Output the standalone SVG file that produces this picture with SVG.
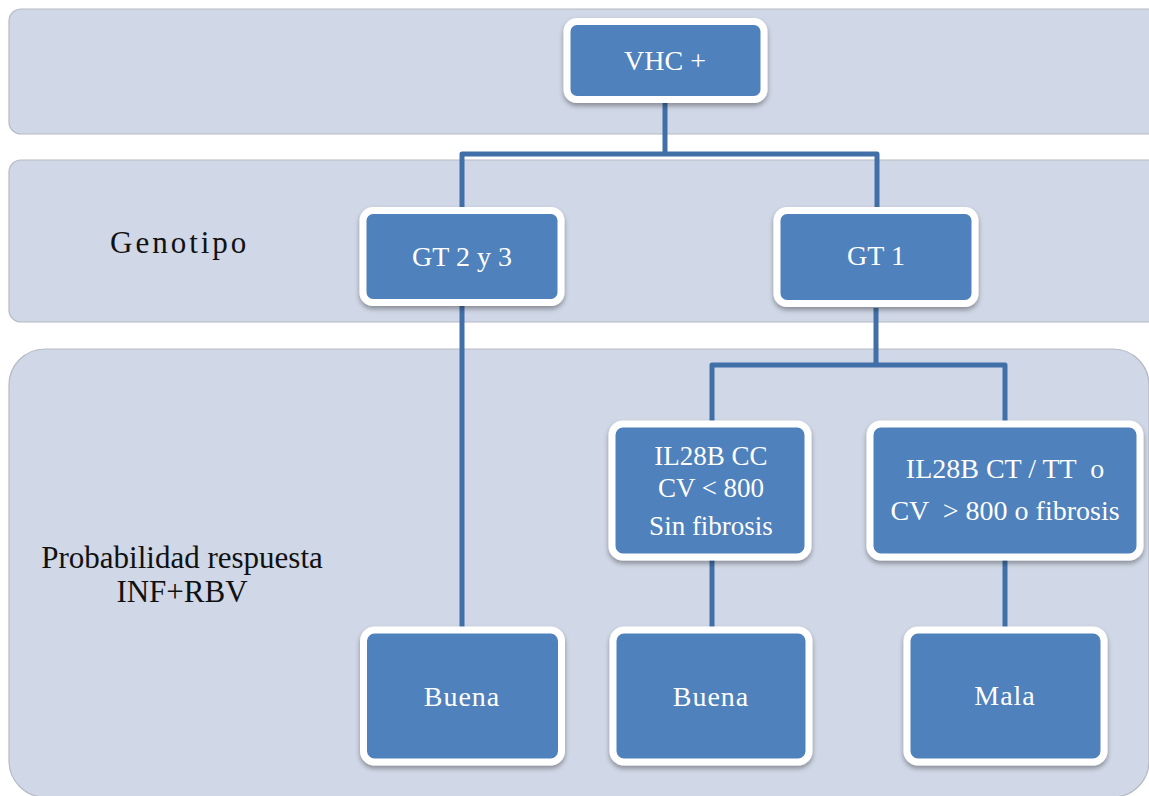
<svg xmlns="http://www.w3.org/2000/svg" width="1149" height="796" viewBox="0 0 1149 796">
  <defs>
    <filter id="shadow" x="-10%" y="-10%" width="120%" height="130%">
      <feDropShadow dx="0" dy="3" stdDeviation="2.5" flood-color="#000" flood-opacity="0.35"/>
    </filter>
    <style>
      .band { fill: #d0d7e6; stroke: #b6bac4; stroke-width: 1.2; }
      .box { fill: #4f81bd; stroke: #ffffff; stroke-width: 7; filter: url(#shadow); }
      .lbl { font-family: "Liberation Serif", "Times New Roman", serif; font-size: 28px; fill: #ffffff; text-anchor: middle; white-space: pre; }
      .tight { font-size: 27px; }
      .side { font-family: "Liberation Serif", "Times New Roman", serif; font-size: 31px; fill: #111111; }
      .wire { fill: none; stroke: #4170a8; stroke-width: 5; stroke-linejoin: round; }
    </style>
  </defs>

  <rect width="1149" height="796" fill="#ffffff"/>

  <!-- level bands -->
  <g id="bands">
    <rect class="band" x="9" y="9" width="1160" height="125" rx="12"/>
    <rect class="band" x="9" y="160" width="1160" height="162" rx="12"/>
    <rect class="band" x="9" y="349" width="1140" height="448" rx="36"/>
  </g>

  <!-- level labels -->
  <text class="side" x="110" y="253" letter-spacing="3">Genotipo</text>
  <text class="side" x="182" y="568" text-anchor="middle">Probabilidad respuesta</text>
  <text class="side" x="182" y="602" text-anchor="middle">INF+RBV</text>

  <!-- connectors -->
  <g id="connectors">
    <path class="wire" d="M665 103 V154 M462 210 V154 H877 V210"/>
    <path class="wire" d="M462 306 V630"/>
    <path class="wire" d="M876 308 V365 M712 424 V365 H1005 V424"/>
    <path class="wire" d="M712 560 V630"/>
    <path class="wire" d="M1005 560 V630"/>
  </g>

  <g id="node-vhc">
    <rect class="box" x="567" y="21.5" width="197" height="78" rx="10"/>
    <text class="lbl" x="665" y="70">VHC +</text>
  </g>

  <g id="node-gt23">
    <rect class="box" x="363" y="210.5" width="198" height="92" rx="10"/>
    <text class="lbl" x="462" y="266">GT 2 y 3</text>
  </g>

  <g id="node-gt1">
    <rect class="box" x="777" y="210.5" width="198" height="93" rx="10"/>
    <text class="lbl" x="876" y="265">GT 1</text>
  </g>

  <g id="node-cc">
    <rect class="box" x="612" y="424" width="196" height="133" rx="11"/>
    <text class="lbl tight" x="711" y="465">IL28B CC</text>
    <text class="lbl tight" x="711" y="497">CV &lt; 800</text>
    <text class="lbl tight" x="711" y="535">Sin fibrosis</text>
  </g>

  <g id="node-ct">
    <rect class="box" x="870" y="424" width="270" height="133" rx="11"/>
    <text class="lbl" x="1005" y="478">IL28B CT / TT  o</text>
    <text class="lbl" x="1005" y="520">CV  &gt; 800 o fibrosis</text>
  </g>

  <g id="node-buena1">
    <rect class="box" x="363.5" y="630" width="198" height="132" rx="11"/>
    <text class="lbl" x="462" y="706" letter-spacing="1">Buena</text>
  </g>

  <g id="node-buena2">
    <rect class="box" x="613" y="630" width="196" height="132" rx="11"/>
    <text class="lbl" x="711" y="706" letter-spacing="1">Buena</text>
  </g>

  <g id="node-mala">
    <rect class="box" x="907" y="630" width="197" height="132" rx="11"/>
    <text class="lbl" x="1005" y="705" letter-spacing="1">Mala</text>
  </g>
</svg>
